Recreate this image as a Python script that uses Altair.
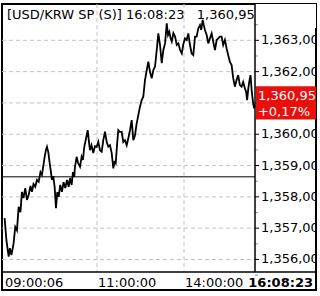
import altair as alt
import pandas as pd

# ---- data ----
symbol = "USD/KRW SP (S)"
last_time = "16:08:23"
last_price = 1360.95
change_pct = 0.17
prev_close = 1358.64

# minutes since 09:00
minutes = [0.9, 3.2, 6.1, 7.7, 9.7, 12.5, 14.6, 16.8, 19.0, 21.3, 23.2, 25.2, 27.5, 29.7, 31.9,
           34.2, 36.1, 38.1, 40.4, 42.6, 44.8, 47.1, 49.0, 51.0, 52.5, 54.2, 55.5, 57.2, 59.0,
           60.6, 61.9, 63.6, 65.4, 67.1, 68.8, 70.6, 72.6, 74.8, 76.9, 79.1, 81.3, 83.5, 85.2,
           87.3, 89.0, 90.7, 91.6, 93.8, 95.5, 98.1, 100.2, 101.9, 103.6, 105.4, 108.0, 109.4,
           110.9, 112.9, 115.2, 117.4, 119.6, 122.7, 126.2, 129.7, 133.0, 136.6, 140.1, 143.4,
           146.9, 150.4, 153.7, 156.2, 158.7, 161.4, 164.1, 167.6, 171.1, 174.4, 177.9, 181.5,
           184.8, 188.3, 191.8, 195.1, 198.6, 202.1, 205.5, 209.0, 212.5, 215.8, 219.3, 222.9,
           226.2, 229.7, 233.2, 236.6, 240.1, 243.6, 246.9, 250.4, 253.9, 257.3, 260.8, 264.3,
           267.0, 269.7, 272.2, 274.7, 278.0, 281.5, 285.0, 288.4, 291.9, 295.4, 298.7, 301.8,
           304.9, 307.8, 310.8, 313.9, 316.8, 319.9, 322.9, 325.8, 328.9, 331.2, 333.8, 336.1,
           337.9, 341.0, 343.9, 347.0, 350.0, 352.9, 356.0, 359.1, 361.9, 365.0, 368.0, 370.9,
           374.0, 377.0, 379.9, 383.0, 386.1, 388.9, 392.0, 395.1, 398.0, 401.0, 404.1, 407.0,
           410.1, 412.4, 414.2, 416.4, 418.5, 420.3, 422.3, 425.0, 426.8, 428.0]
prices = [1357.32, 1356.62, 1356.09, 1356.36, 1356.14, 1356.52, 1357.04, 1356.93, 1357.68, 1357.51,
          1358.16, 1357.96, 1358.28, 1357.90, 1358.06, 1358.35, 1358.16, 1358.41, 1358.32, 1358.54,
          1358.48, 1358.79, 1358.70, 1359.02, 1359.28, 1359.50, 1359.60, 1359.43, 1359.08, 1358.79,
          1358.54, 1358.66, 1358.32, 1357.64, 1358.15, 1358.00, 1358.38, 1358.16, 1358.47, 1358.28,
          1358.54, 1358.32, 1358.60, 1358.38, 1358.79, 1358.64, 1358.96, 1359.28, 1359.08, 1358.96,
          1359.28, 1359.18, 1359.60, 1359.81, 1360.13, 1359.81, 1359.49, 1359.65, 1359.40, 1359.62,
          1359.60, 1359.76, 1359.49, 1359.44, 1359.81, 1360.08, 1359.75, 1359.60, 1359.65, 1359.40,
          1358.91, 1359.11, 1359.07, 1359.65, 1360.13, 1360.07, 1360.08, 1359.75, 1359.81, 1359.65,
          1359.87, 1360.13, 1360.45, 1359.81, 1359.97, 1360.35, 1360.61, 1360.88, 1361.09, 1361.20,
          1361.73, 1362.05, 1362.32, 1361.99, 1361.79, 1362.05, 1362.16, 1362.69, 1363.22, 1362.85,
          1362.27, 1362.69, 1362.90, 1363.54, 1363.17, 1363.27, 1363.07, 1362.96, 1363.23, 1363.12,
          1362.85, 1362.90, 1362.69, 1362.58, 1362.88, 1363.06, 1363.01, 1363.22, 1362.85, 1362.58,
          1362.53, 1363.12, 1363.12, 1363.38, 1363.49, 1363.33, 1363.65, 1363.46, 1363.33, 1363.17,
          1362.90, 1363.07, 1363.22, 1362.95, 1362.69, 1363.01, 1363.06, 1363.12, 1363.12, 1362.85,
          1363.01, 1362.75, 1362.53, 1362.31, 1362.21, 1361.80, 1361.52, 1361.73, 1361.89, 1361.57,
          1361.52, 1361.67, 1361.47, 1361.35, 1361.09, 1361.48, 1361.73, 1361.89, 1361.41, 1360.99,
          1360.83, 1360.95]

y_ticks = [1356, 1357, 1358, 1359, 1360, 1361, 1362, 1363]
y_minor = [1355.5, 1356.5, 1357.5, 1358.5, 1359.5, 1360.5, 1361.5, 1362.5, 1363.5]
x_grid = [120, 300]
x_label_pos = [0.1, 120, 300]
x_labels = ["09:00:06", "11:00:00", "14:00:00"]


def kfmt(v):
    return f"{v:,.2f}".replace(".", ",")


# ---- tables ----
line_df = pd.DataFrame({"t": minutes, "p": prices})
ytick_df = pd.DataFrame({"v": y_ticks, "lab": [kfmt(v) for v in y_ticks]})
yminor_df = pd.DataFrame({"v": y_minor})
xgrid_df = pd.DataFrame({"t": x_grid})
xlab_df = pd.DataFrame({"t": x_label_pos, "lab": x_labels})
last_df = pd.DataFrame({"p": [last_price],
                        "l1": [kfmt(last_price)],
                        "l2": [f"+{change_pct:.2f}%".replace(".", ",")]})
prev_df = pd.DataFrame({"p": [prev_close]})
title_df = pd.DataFrame({"txt": [f"[{symbol}] {last_time}\u00a0\u00a0\u00a0{kfmt(last_price)}"]})
tlast_df = pd.DataFrame({"txt": [last_time]})

FONT = "DejaVu Sans"
PW, PH = 253, 268  # plot region inside the frame
W, H = 314, 286

xs = alt.Scale(domain=[0.1, 120, 300, 428.4], range=[2, 95, 182, 253])
ys = alt.Scale(domain=[1355.60, 1364.16], range=[PH, 0], zero=False, nice=False)

X = lambda f: alt.X(f, scale=xs, axis=None)
Y = lambda f: alt.Y(f, scale=ys, axis=None)

hgrid = alt.Chart(ytick_df).mark_rule(color="#c4c4c4", strokeDash=[4, 3], strokeWidth=1).encode(
    y=Y("v:Q"), x=alt.value(0), x2=alt.value(PW))
vgrid = alt.Chart(xgrid_df).mark_rule(color="#c4c4c4", strokeDash=[4, 3], strokeWidth=1).encode(
    x=X("t:Q"), y=alt.value(0), y2=alt.value(PH))
prev = alt.Chart(prev_df).mark_rule(color="black", strokeWidth=1).encode(
    y=Y("p:Q"), x=alt.value(0), x2=alt.value(PW))
line = alt.Chart(line_df).mark_line(color="black", strokeWidth=1.8).encode(
    x=X("t:Q"), y=Y("p:Q"))
title = alt.Chart(title_df).mark_text(
    font=FONT, fontSize=13, align="left", baseline="alphabetic", color="black"
).encode(x=alt.value(5), y=alt.value(14.5), text="txt:N")
# white cover for the part of the title that runs past the plot edge
cover = alt.Chart(prev_df).mark_rect(color="white").encode(
    x=alt.value(PW), x2=alt.value(W), y=alt.value(0), y2=alt.value(24))
sep_v = alt.Chart(prev_df).mark_rule(color="black", strokeWidth=1.5).encode(
    x=alt.value(PW), y=alt.value(0), y2=alt.value(PH))
sep_h = alt.Chart(prev_df).mark_rule(color="black", strokeWidth=1.5).encode(
    y=alt.value(PH), x=alt.value(0), x2=alt.value(W))
ticks = alt.Chart(ytick_df).mark_rule(color="black", strokeWidth=1).encode(
    y=Y("v:Q"), x=alt.value(PW), x2=alt.value(PW + 4))
minor = alt.Chart(yminor_df).mark_rule(color="#909090", strokeWidth=1).encode(
    y=Y("v:Q"), x=alt.value(PW), x2=alt.value(PW + 3))
ylabels = alt.Chart(ytick_df).transform_filter(
    f"abs(datum.v - {last_price}) > 0.6"
).mark_text(
    font=FONT, fontSize=13, align="left", baseline="middle", color="black", clip=True
).encode(y=Y("v:Q"), x=alt.value(PW + 6), text="lab:N")

box = alt.Chart(last_df).transform_calculate(
    top="datum.p + 0.58", bot="datum.p - 0.48"
).mark_rect(color="#e8100c").encode(
    y=Y("top:Q"), y2="bot:Q", x=alt.value(PW + 1), x2=alt.value(W))
box_t1 = alt.Chart(last_df).mark_text(
    font=FONT, fontSize=13, align="center", baseline="middle", color="white", clip=True, dy=-9
).encode(y=Y("p:Q"), x=alt.value(PW + 32), text="l1:N")
box_t2 = alt.Chart(last_df).mark_text(
    font=FONT, fontSize=13, align="center", baseline="middle", color="white", dy=7
).encode(y=Y("p:Q"), x=alt.value(PW + 29), text="l2:N")

xlabels = alt.Chart(xlab_df).mark_text(
    font=FONT, fontSize=13, align="left", baseline="alphabetic", color="black", dx=1
).encode(x=X("t:Q"), y=alt.value(282.5), text="lab:N")
xlast = alt.Chart(tlast_df).mark_text(
    font=FONT, fontSize=13, fontWeight="bold", align="right", baseline="alphabetic", color="black"
).encode(x=alt.value(W - 3), y=alt.value(282.5), text="txt:N")

chart = alt.layer(
    hgrid, vgrid, prev, line, title, cover, ticks, minor, ylabels, box, box_t1, box_t2,
    sep_v, sep_h, xlabels, xlast
).properties(
    width=W, height=H,
    padding={"left": 2, "top": 4, "right": 4, "bottom": 6},
    autosize=alt.AutoSizeParams(type="none"),
    background="white",
).configure_view(stroke="black", strokeWidth=2)

chart.save("out.html", embed_options={"renderer": "svg", "actions": False})
